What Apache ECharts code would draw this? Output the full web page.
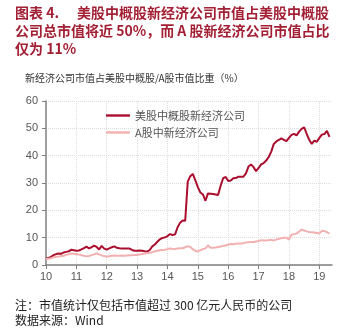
<!DOCTYPE html>
<html><head><meta charset="utf-8">
<script src="https://cdn.jsdelivr.net/npm/echarts@6/dist/echarts.min.js"></script>
<style>html,body{margin:0;padding:0;background:#fff}#c{width:350px;height:335px}</style>
</head><body><div id="c"></div>
<script>
// Monthly, Jan 2010 - Jun 2019
var yearLabels = ['10','11','12','13','14','15','16','17','18','19'];
var months = [];
for (var y = 0; y < yearLabels.length; y++) {
  for (var m = 1; m <= 12; m++) {
    if (y === 9 && m > 6) break;
    months.push(yearLabels[y] + '-' + (m < 10 ? '0' + m : m));
  }
}
var seriesNames = ['美股中概股新经济公司', 'A股中新经济公司'];
var usChina = [
  2.4,2.6,3.0,3.6,4.0,4.2,4.1,4.6,4.8,5.0,5.6,5.4,
  5.2,5.3,5.7,6.2,6.7,6.1,6.5,7.1,6.6,5.7,7.0,6.0,
  5.6,6.1,6.5,6.8,6.3,6.1,6.0,6.0,6.0,6.0,5.5,5.2,
  5.2,5.3,5.2,5.0,4.9,5.5,6.8,7.5,8.5,9.4,9.9,10.1,
  10.6,11.3,11.0,11.2,13.8,15.5,16.3,16.2,30.5,32.5,33.3,31.0,
  28.5,26.5,25.8,23.5,26.2,26.1,26.0,25.8,25.6,29.0,31.8,32.2,
  30.7,30.9,31.7,31.8,32.3,32.3,32.3,33.5,36.0,36.8,35.8,34.3,
  35.5,36.8,37.3,38.2,39.5,41.5,44.3,45.2,45.8,46.3,45.8,45.3,
  46.5,47.6,48.0,47.4,48.8,49.8,50.4,48.0,45.8,44.3,45.5,45.1,
  46.5,47.7,47.9,49.1,46.9
];
var aShare = [
  2.2,2.3,2.5,2.8,3.0,3.1,3.3,3.4,3.7,3.9,4.2,4.1,
  4.0,3.8,3.6,3.4,3.2,3.3,3.6,3.9,4.2,3.9,3.5,3.3,
  3.0,3.2,3.4,3.5,3.4,3.4,3.5,3.4,3.5,3.6,3.6,3.7,
  3.7,3.8,4.0,4.2,4.4,4.5,4.7,5.0,5.2,5.4,5.5,5.6,
  5.8,6.0,5.9,5.8,6.0,6.1,6.1,6.5,6.9,6.6,5.8,5.2,
  4.9,5.4,5.8,6.1,7.2,6.3,6.3,6.4,6.6,6.8,7.0,7.1,
  7.5,7.7,7.6,7.8,7.9,7.9,8.0,8.2,8.3,8.4,8.4,8.6,
  8.8,9.1,9.0,9.0,9.1,9.2,9.0,9.3,9.6,9.8,10.0,10.0,
  9.3,11.1,11.3,11.5,12.2,13.0,12.6,12.3,12.1,12.0,11.9,11.7,
  11.5,12.5,12.4,12.0,11.5
];
var yTicks = [0,10,20,30,40,50,60];

var chart = echarts.init(document.getElementById('c'));
var cjk = '"Noto Sans CJK SC", "Noto Sans", sans-serif';
chart.setOption({
  animation: false,
  textStyle: { fontFamily: cjk },
  grid: { left: 46, right: 18, top: 101, bottom: 70 },
  graphic: [
    { type: 'text', left: 15, top: 6, style: { text: '图表 4.', fill: '#a31f34', font: 'bold 14px ' + cjk } },
    { type: 'text', left: 77, top: 6, style: { text: '美股中概股新经济公司市值占美股中概股', fill: '#a31f34', font: 'bold 14px ' + cjk } },
    { type: 'text', left: 15, top: 24, style: { text: '公司总市值将近 50%，而 A 股新经济公司市值占比', fill: '#a31f34', font: 'bold 14px ' + cjk } },
    { type: 'text', left: 15, top: 42, style: { text: '仅为 11%', fill: '#a31f34', font: 'bold 14px ' + cjk } },
    { type: 'text', left: 25, top: 73, style: { text: '新经济公司市值占美股中概股/A股市值比重（%）', fill: '#333', font: '10px ' + cjk } },
    { type: 'text', left: 15, top: 299, style: { text: '注：市值统计仅包括市值超过 300 亿元人民币的公司', fill: '#222', font: '12px ' + cjk } },
    { type: 'text', left: 15, top: 314, style: { text: '数据来源：Wind', fill: '#222', font: '12px ' + cjk } }
  ],
  legend: {
    orient: 'vertical', left: 101, top: 105, itemGap: 6,
    itemWidth: 24, itemHeight: 14,
    textStyle: { color: '#555', fontSize: 11, fontFamily: cjk },
    data: seriesNames.map(function (n) { return { name: n, icon: 'path://M0,0L10,0L10,1L0,1Z' }; })
  },
  xAxis: {
    type: 'category', data: months, boundaryGap: false,
    axisLine: { lineStyle: { color: '#7f7f7f', width: 1.5 } },
    axisTick: { interval: function (i) { return i % 12 === 0; }, length: 4, lineStyle: { color: '#7f7f7f' } },
    axisLabel: { interval: function (i) { return i % 12 === 0; }, formatter: function (v) { return v.split('-')[0]; }, color: '#555', fontSize: 11, margin: 6, fontFamily: 'Arial, "Liberation Sans", sans-serif' },
    splitLine: { show: true, interval: function (i) { return i % 12 === 0 && i > 0; }, lineStyle: { color: '#ddd', type: 'dotted' } }
  },
  yAxis: {
    type: 'value', min: yTicks[0], max: yTicks[yTicks.length - 1], interval: 10,
    axisLine: { show: true, lineStyle: { color: '#7f7f7f', width: 1.5 } },
    axisTick: { show: true, length: 4, lineStyle: { color: '#7f7f7f' } },
    axisLabel: { color: '#555', fontSize: 11, margin: 8, fontFamily: 'Arial, "Liberation Sans", sans-serif' },
    splitLine: { lineStyle: { color: '#ddd', type: 'dotted' } }
  },
  series: [
    { name: seriesNames[0], type: 'line', data: usChina, symbol: 'none', lineStyle: { color: '#ab0f2e', width: 2 }, itemStyle: { color: '#ab0f2e' } },
    { name: seriesNames[1], type: 'line', data: aShare, symbol: 'none', lineStyle: { color: '#f2b1b0', width: 2 }, itemStyle: { color: '#f2b1b0' } }
  ]
});
</script></body></html>
